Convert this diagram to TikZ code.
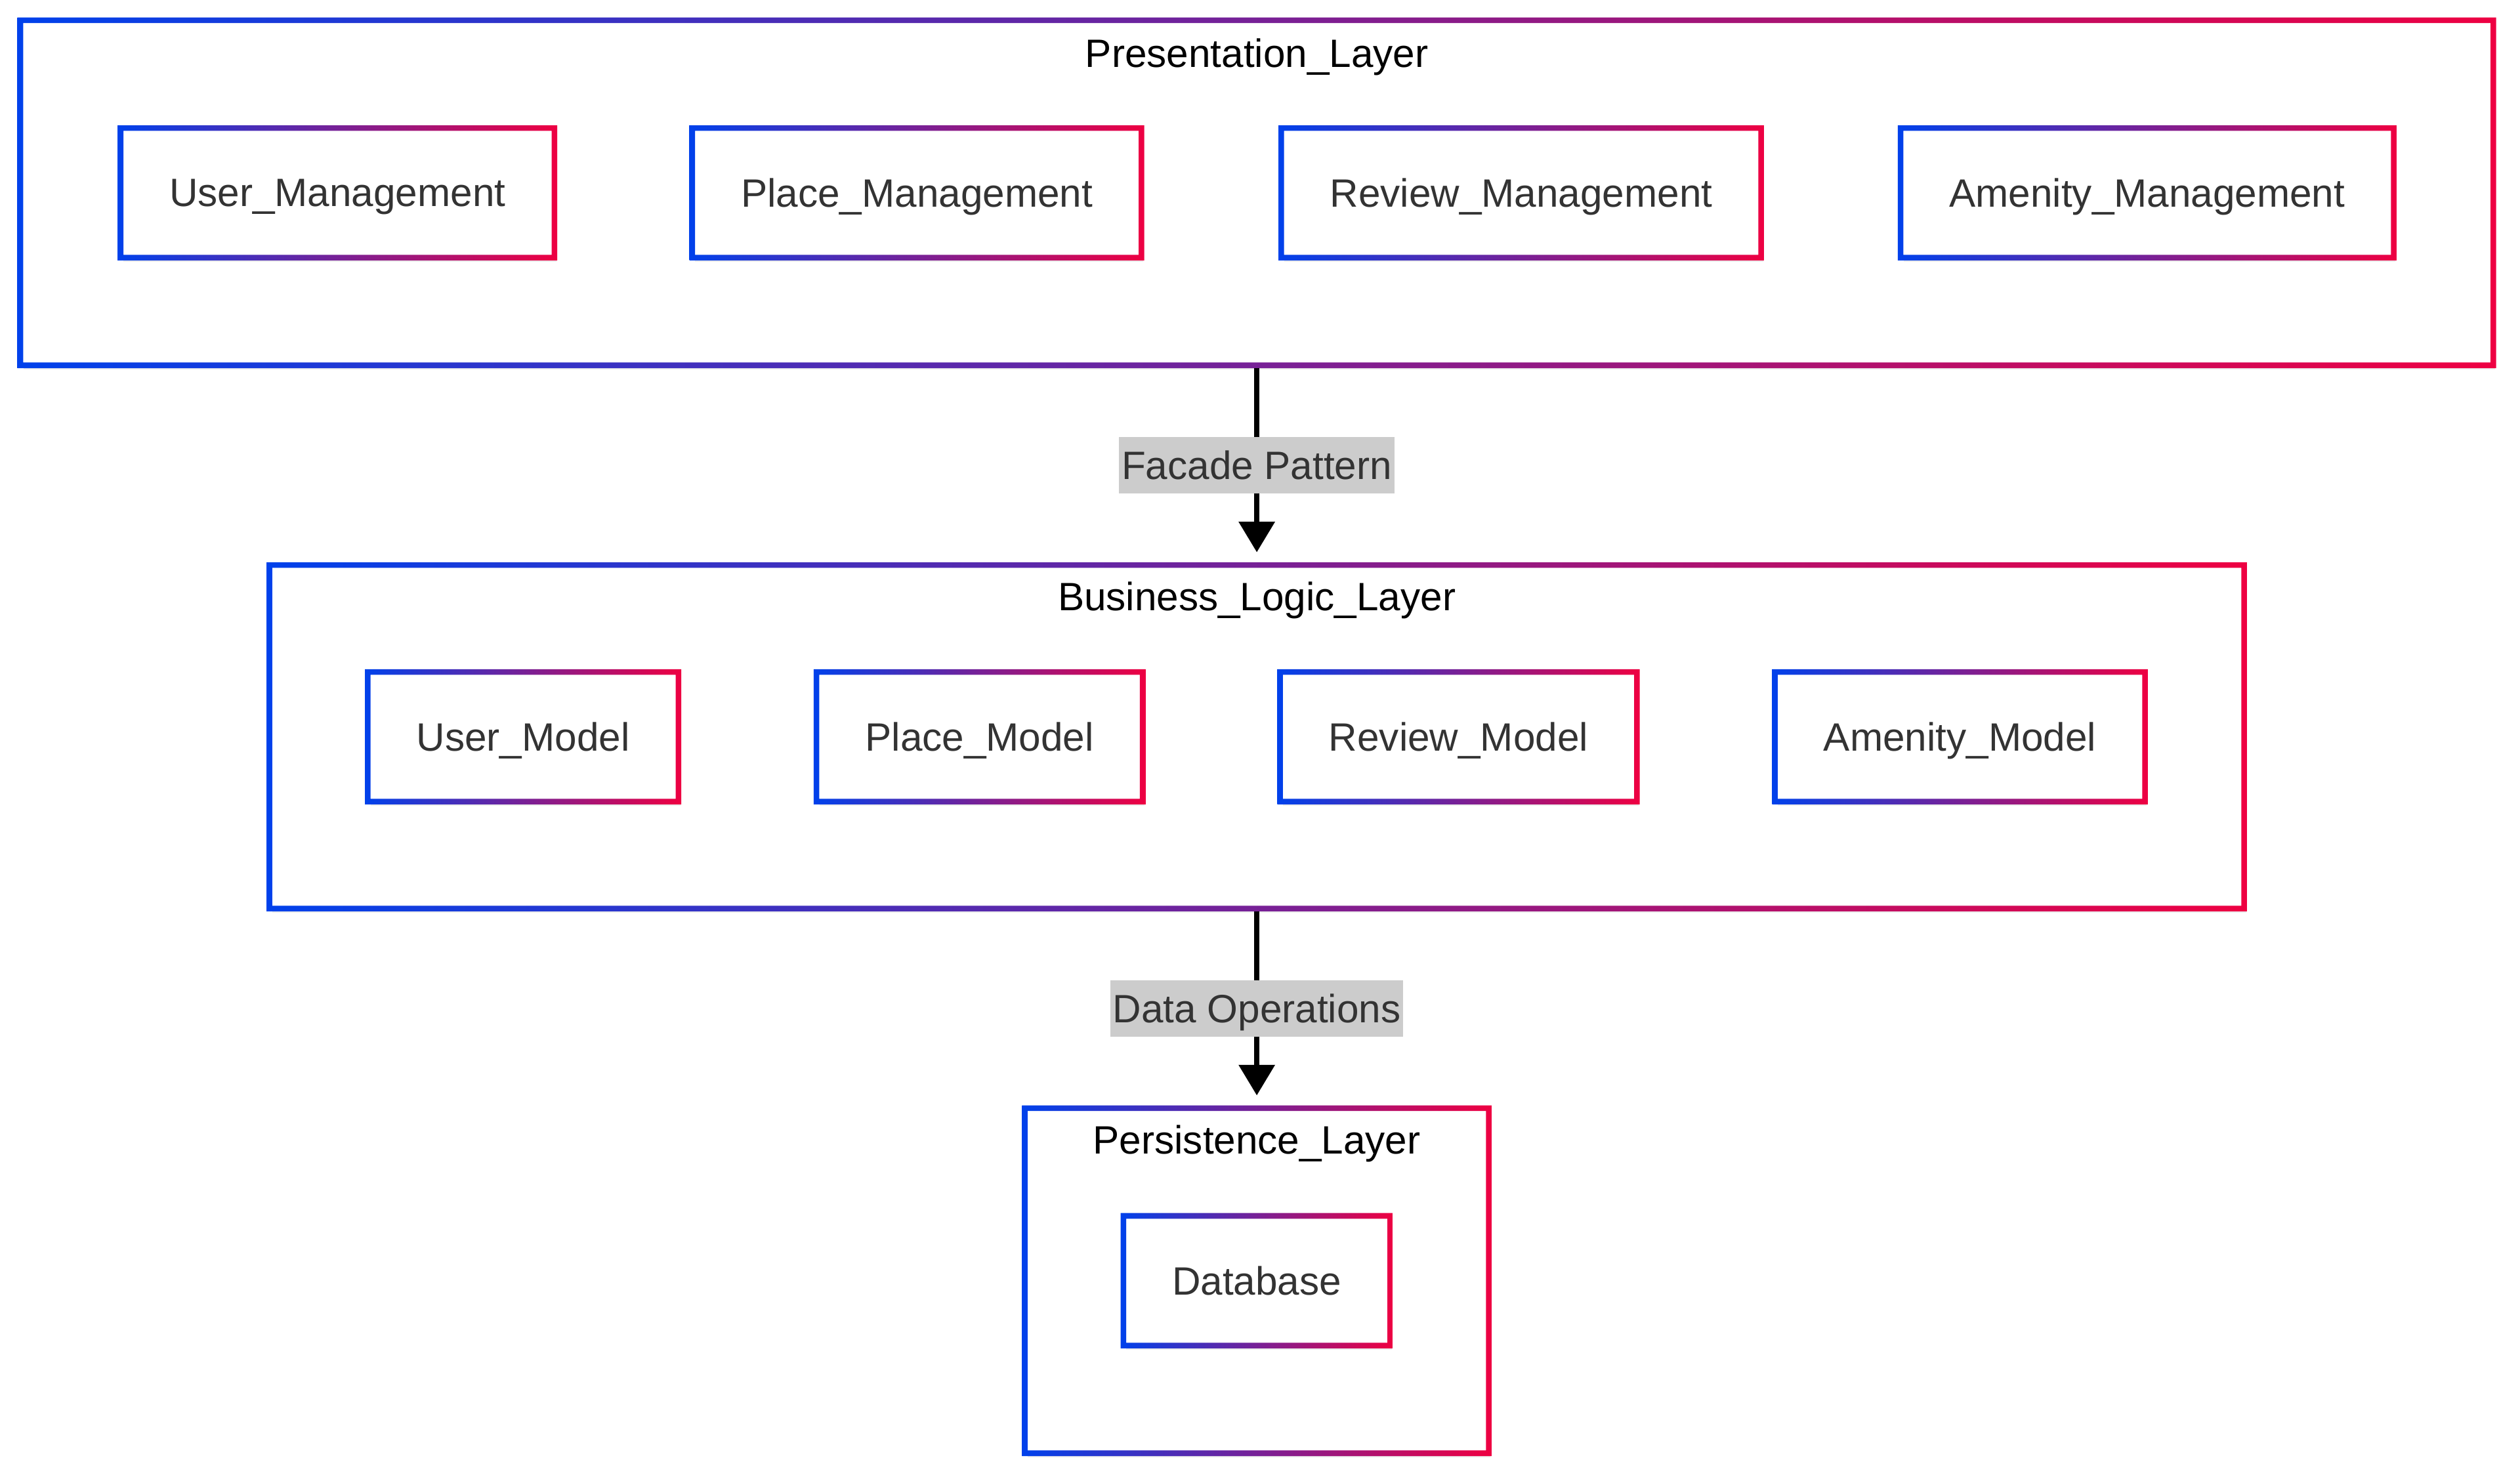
\documentclass[tikz,border=0pt]{standalone}
\usepackage{fontspec}
\setmainfont{Liberation Sans}
\usetikzlibrary{arrows.meta,shadows}
\definecolor{gblue}{RGB}{0,65,235}
\definecolor{gred}{RGB}{238,0,66}
\definecolor{txtgray}{RGB}{51,51,51}
\definecolor{lblgray}{RGB}{204,204,204}
\tikzset{
  softshadow/.style={drop shadow={shadow xshift=0.03cm, shadow yshift=-0.06cm, opacity=0.08, fill=black}},
  layer/.style={fill=white, inner sep=0pt, softshadow},
  laytitle/.style={text=black, inner sep=0pt, text depth=0pt},
  module/.style={fill=white, text=txtgray, inner xsep=0.6cm, inner ysep=0pt, minimum height=1.6cm, text depth=0pt, softshadow},
  gframe/.style={left color=gblue, right color=gred, even odd rule},
  flow/.style={-{Triangle[width=0.44cm,length=0.38cm]}, line width=0.06cm, shorten <=0.035cm, shorten >=0.16cm},
  flowlabel/.style={fill=lblgray, text=txtgray, inner xsep=0.03cm, inner ysep=0pt, minimum height=0.7cm, text depth=0pt}
}
% border with a left-to-right colour run
\newcommand{\gframe}[1]{%
  \shade[gframe] ([shift={(-0.035cm,0.035cm)}]#1.north west) rectangle ([shift={(0.035cm,-0.035cm)}]#1.south east)
    ([shift={(0.035cm,-0.035cm)}]#1.north west) rectangle ([shift={(-0.035cm,0.035cm)}]#1.south east);}
\begin{document}
\begin{tikzpicture}[font=\fontsize{14}{17}\selectfont]
  \useasboundingbox (0,0) rectangle (31.36,-18.4);
  % layers
  \node[layer, minimum width=30.76cm, minimum height=4.28cm] (pres) at (15.64,-2.40) {};
  \node[layer, minimum width=24.56cm, minimum height=4.26cm] (bus) at (15.64,-9.17) {};
  \node[layer, minimum width=5.76cm, minimum height=4.28cm] (pers) at (15.64,-15.94) {};
  \gframe{pres}
  \gframe{bus}
  \gframe{pers}
  \node[laytitle] (presT) at (15.64,-0.66) {Presentation\_Layer};
  \node[laytitle] (busT) at (15.64,-7.42) {Business\_Logic\_Layer};
  \node[laytitle] (persT) at (15.64,-14.18) {Persistence\_Layer};
  % presentation
  \node[module] (userM) at (4.20,-2.40) {User\_Management};
  \node[module] (placeM) at (11.41,-2.40) {Place\_Management};
  \node[module] (reviewM) at (18.93,-2.40) {Review\_Management};
  \node[module] (amenityM) at (26.72,-2.40) {Amenity\_Management};
  % business logic
  \node[module] (userMod) at (6.51,-9.17) {User\_Model};
  \node[module] (placeMod) at (12.19,-9.17) {Place\_Model};
  \node[module] (reviewMod) at (18.15,-9.17) {Review\_Model};
  \node[module] (amenityMod) at (24.39,-9.17) {Amenity\_Model};
  % persistence
  \node[module] (db) at (15.64,-15.94) {Database};
  \foreach \n in {userM,placeM,reviewM,amenityM,userMod,placeMod,reviewMod,amenityMod,db}
    {\gframe{\n}}
  % flows
  \draw[flow] (pres) -- node[flowlabel] (facade) {Facade Pattern} (bus);
  \draw[flow] (bus) -- node[flowlabel] (dataops) {Data Operations} (pers);
\end{tikzpicture}
\end{document}
